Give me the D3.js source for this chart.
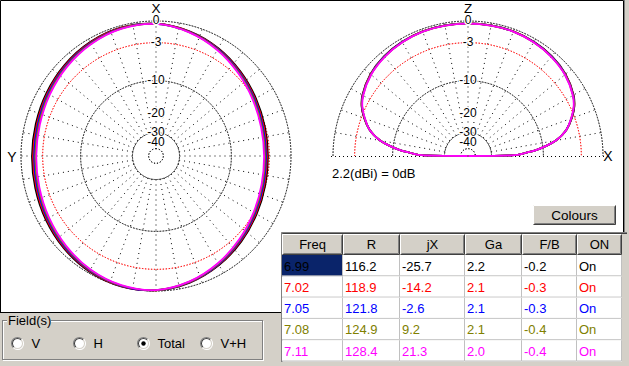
<!DOCTYPE html>
<html><head><meta charset="utf-8">
<script src="https://cdnjs.cloudflare.com/ajax/libs/d3/7.8.5/d3.min.js"></script>
<style>
html,body{margin:0;padding:0;background:#d4d0c8;overflow:hidden}
svg{display:block;font-family:Arial,"Liberation Sans",sans-serif}
</style></head><body>
<script>
// ---------- data ----------
const seriesFreq = ["6.99","7.02","7.05","7.08","7.11"];
const seriesColors = ["#000000","#ff0000","#0000ff","#808000","#ff00ff"];
const tableColumns = ["Freq","R","jX","Ga","F/B","ON"];
const colR  = ["116.2","118.9","121.8","124.9","128.4"];
const colJX = ["-25.7","-14.2","-2.6","9.2","21.3"];
const colGa = ["2.2","2.1","2.1","2.1","2.0"];
const colFB = ["-0.2","-0.3","-0.3","-0.4","-0.4"];
const colOn = ["On","On","On","On","On"];
const ringDb = [0,-3,-10,-30,-50];
const ringLabels = ["0","-3","-10","-20","-30","-40"];
const ringLabelDb = [0,-3,-10,-20,-30,-40];
const spokeAngles = d3.range(0,360,10);
const fieldOptions = ["V","H","Total","V+H"];
const maxGainText = "2.2(dBi) = 0dB";

// azimuth (horizontal) pattern, angle clockwise from X (top), dB
const azAngles = [0,15,30,45,60,75,90,105,120,135,150,165,180,195,210,225,240,255,270,285,300,315,330,345];
const azBlack   = [-0.35,-0.76,-1.38,-2.09,-2.70,-3.10,-3.22,-3.04,-2.58,-1.92,-1.18,-0.51,-0.09,0.00,-0.21,-0.60,-1.01,-1.33,-1.46,-1.40,-1.13,-0.77,-0.43,-0.24];
const azRed     = [-0.35,-0.80,-1.46,-2.20,-2.83,-3.25,-3.37,-3.19,-2.71,-2.03,-1.26,-0.55,-0.09,-0.04,-0.29,-0.71,-1.14,-1.48,-1.61,-1.55,-1.26,-0.88,-0.51,-0.28];
const azBlue    = [-0.36,-0.84,-1.53,-2.30,-2.96,-3.39,-3.52,-3.33,-2.84,-2.13,-1.33,-0.59,-0.10,-0.08,-0.36,-0.81,-1.27,-1.62,-1.76,-1.69,-1.39,-0.98,-0.58,-0.32];
const azOlive   = [-0.37,-0.88,-1.61,-2.41,-3.09,-3.54,-3.67,-3.48,-2.97,-2.24,-1.41,-0.63,-0.11,-0.12,-0.44,-0.92,-1.40,-1.77,-1.91,-1.84,-1.52,-1.09,-0.66,-0.36];
const azMagenta = [-0.38,-0.92,-1.68,-2.51,-3.22,-3.68,-3.82,-3.62,-3.10,-2.34,-1.48,-0.67,-0.12,-0.16,-0.51,-1.03,-1.53,-1.91,-2.06,-1.98,-1.65,-1.19,-0.73,-0.40];

// elevation (vertical) pattern, elevation angle from right horizon, dB
const elAngles = [0,1,2,3,5,7.5,10,12.5,15,20,25,30,40,50,60,70,80,90,100,110,120,130,140,150,155,160,165,167.5,170,172.5,175,177,178,179,180];
const elBlack   = [-99,-18.4,-16.0,-14.7,-11.7,-9.1,-7.1,-5.8,-4.8,-3.45,-2.40,-1.75,-1.00,-0.60,-0.40,-0.30,-0.30,-0.30,-0.30,-0.30,-0.40,-0.60,-1.00,-1.75,-2.40,-3.45,-4.8,-5.8,-7.1,-9.1,-11.7,-14.7,-16.0,-18.4,-99];
const elRed     = [-99,-18.4,-16.0,-14.7,-11.7,-9.1,-7.1,-5.8,-4.8,-3.47,-2.43,-1.78,-1.03,-0.63,-0.42,-0.31,-0.30,-0.30,-0.30,-0.31,-0.42,-0.63,-1.03,-1.78,-2.43,-3.47,-4.8,-5.8,-7.1,-9.1,-11.7,-14.7,-16.0,-18.4,-99];
const elBlue    = [-99,-18.4,-16.0,-14.7,-11.7,-9.1,-7.1,-5.8,-4.8,-3.50,-2.46,-1.81,-1.06,-0.66,-0.44,-0.32,-0.31,-0.31,-0.31,-0.32,-0.44,-0.66,-1.06,-1.81,-2.46,-3.50,-4.8,-5.8,-7.1,-9.1,-11.7,-14.7,-16.0,-18.4,-99];
const elOlive   = [-99,-18.4,-16.0,-14.7,-11.7,-9.1,-7.1,-5.8,-4.8,-3.53,-2.49,-1.84,-1.09,-0.69,-0.46,-0.33,-0.32,-0.32,-0.32,-0.33,-0.46,-0.69,-1.09,-1.84,-2.49,-3.53,-4.8,-5.8,-7.1,-9.1,-11.7,-14.7,-16.0,-18.4,-99];
const elMagenta = [-99,-18.4,-16.0,-14.7,-11.7,-9.1,-7.1,-5.8,-4.8,-3.56,-2.52,-1.87,-1.12,-0.72,-0.48,-0.34,-0.33,-0.33,-0.33,-0.34,-0.48,-0.72,-1.12,-1.87,-2.52,-3.56,-4.8,-5.8,-7.1,-9.1,-11.7,-14.7,-16.0,-18.4,-99];

const azSeries = [azBlack, azRed, azBlue, azOlive, azMagenta];
const elSeries = [elBlack, elRed, elBlue, elOlive, elMagenta];

// ---------- drawing ----------
const W = 629, H = 366;
const svg = d3.select("body").append("svg").attr("width", W).attr("height", H);

svg.append("rect").attr("x",0).attr("y",0).attr("width",625).attr("height",313).attr("fill","#fff");
svg.append("path").attr("d","M0.5,312.5V0.5H623.5V232").attr("fill","none").attr("stroke","#000");
svg.append("line").attr("x1",0).attr("x2",282).attr("y1",312.5).attr("y2",312.5).attr("stroke","#000");
svg.append("line").attr("x1",624.5).attr("x2",624.5).attr("y1",0).attr("y2",232).attr("stroke","#808080");

const R0 = 135;
const rScale = d3.scaleLinear().domain([0,1]).range([0,R0]);
const rad = db => rScale(Math.pow(0.89, -db/2));

function drawGrid(g, full) {
  const angs = full ? spokeAngles : spokeAngles.filter(a => a > 0 && a < 180);
  angs.forEach(a => {
    const ang = full ? a : 90 - a;
    const t = ang * Math.PI/180;
    const r1 = rad(-30), r2 = R0;
    g.append("line")
      .attr("x1", r1*Math.sin(t)).attr("y1", -r1*Math.cos(t))
      .attr("x2", r2*Math.sin(t)).attr("y2", -r2*Math.cos(t))
      .attr("stroke","#000").attr("stroke-width",1).attr("stroke-dasharray","1 4");
  });
  if (!full) {
    g.append("line").attr("x1",-R0-2).attr("x2",R0+2).attr("y1",0.5).attr("y2",0.5)
      .attr("stroke","#000").attr("stroke-dasharray","1 3");
  }
  ringDb.forEach(db => {
    const r = rad(db);
    const arc = full ? d3.arc()({innerRadius:r,outerRadius:r,startAngle:0,endAngle:2*Math.PI})
                     : d3.arc()({innerRadius:r,outerRadius:r,startAngle:-Math.PI/2,endAngle:Math.PI/2});
    g.append("path").attr("d", arc).attr("fill","none")
      .attr("stroke", db === -3 ? "#ff0000" : "#000").attr("stroke-width",1)
      .attr("stroke-dasharray","1 2");
  });
}

function drawLabels(g, axisTop) {
  ringLabels.forEach((lab,i) => {
    g.append("text").attr("x",0).attr("y", -rad(ringLabelDb[i]) + 3)
      .attr("text-anchor","middle").attr("font-size",12)
      .attr("stroke","#fff").attr("stroke-width",2.5).attr("paint-order","stroke")
      .attr("fill","#000").text(lab);
  });
  g.append("text").attr("x",0).attr("y",-143).attr("text-anchor","middle")
    .attr("font-size",13.5).text(axisTop);
}

const radial = d3.lineRadial().curve(d3.curveCatmullRomClosed.alpha(0.5));
const radialOpen = d3.lineRadial().curve(d3.curveCatmullRom.alpha(0.5));

// left: azimuth
const gL = svg.append("g").attr("transform","translate(156,156)");
drawGrid(gL, true);
azSeries.forEach((vals,k) => {
  const pts = azAngles.map((a,i) => [a*Math.PI/180, rad(vals[i])]);
  gL.append("path").attr("d", radial(pts)).attr("fill","none")
    .attr("stroke", seriesColors[k]).attr("stroke-width",1.8);
});
drawLabels(gL, "X");
gL.append("text").attr("x",-144).attr("y",6).attr("text-anchor","middle").attr("font-size",14).text("Y");

// right: elevation
const gR = svg.append("g").attr("transform","translate(468,156)");
drawGrid(gR, false);
elSeries.forEach((vals,k) => {
  const pts = elAngles.map((a,i) => [(90-a)*Math.PI/180, rad(vals[i])]);
  gR.append("path").attr("d", radialOpen(pts)).attr("fill","none")
    .attr("stroke", seriesColors[k]).attr("stroke-width",1.8);
});
drawLabels(gR, "Z");
gR.append("text").attr("x",140).attr("y",5).attr("text-anchor","middle").attr("font-size",14).text("X");
svg.append("text").attr("x",332).attr("y",178).attr("font-size",13).text(maxGainText);

function button3d(x,y,w,h){
  svg.append("rect").attr("x",x).attr("y",y).attr("width",w).attr("height",h).attr("fill","#d4d0c8");
  svg.append("path").attr("d",`M${x+0.5},${y+h-0.5}V${y+0.5}H${x+w-0.5}`).attr("fill","none").attr("stroke","#fff");
  svg.append("path").attr("d",`M${x+0.5},${y+h-0.5}H${x+w-0.5}V${y+0.5}`).attr("fill","none").attr("stroke","#404040");
  svg.append("path").attr("d",`M${x+1.5},${y+h-1.5}H${x+w-1.5}V${y+1.5}`).attr("fill","none").attr("stroke","#808080");
}
button3d(533,205,83,20);
svg.append("text").attr("x",574.5).attr("y",220).attr("text-anchor","middle").attr("font-size",13.5).text("Colours");

// table
const colX = [282,343,400,465,522,577,622];
const tTop = 233, hdrH = 21, rowH = 21.3;
svg.append("rect").attr("x",281).attr("y",232).attr("width",347).attr("height",131).attr("fill","#d4d0c8");
svg.append("path").attr("d","M281.5,362V232.5H627").attr("fill","none").attr("stroke","#808080");
svg.append("path").attr("d","M282.5,362V233.5H627").attr("fill","none").attr("stroke","#404040");
tableColumns.forEach((c,i) => {
  button3d(colX[i], tTop+1, colX[i+1]-colX[i], hdrH);
  svg.append("text").attr("x",(colX[i]+colX[i+1])/2).attr("y",tTop+16).attr("text-anchor","middle")
    .attr("font-size",13).text(c);
});
const rowsData = seriesFreq.map((f,i) => [f, colR[i], colJX[i], colGa[i], colFB[i], colOn[i]]);
rowsData.forEach((row,ri) => {
  const y0 = tTop + 1 + hdrH + ri*rowH;
  row.forEach((v,ci) => {
    const x0 = colX[ci], w = colX[ci+1]-colX[ci];
    const sel = (ri===0 && ci===0);
    svg.append("rect").attr("x",x0).attr("y",y0).attr("width",w).attr("height",rowH)
      .attr("fill", sel ? "#0a246a" : "#fff");
    svg.append("path").attr("d",`M${x0},${y0+rowH-0.5}H${x0+w-0.5}V${y0}`)
      .attr("fill","none").attr("stroke","#c0c0c0");
    svg.append("text").attr("x",x0+2).attr("y",y0+15.5).attr("font-size",13)
      .attr("fill", seriesColors[ri]).text(v);
  });
});

// Field(s) group
svg.append("rect").attr("x",3.5).attr("y",321.5).attr("width",260).attr("height",39).attr("fill","none").attr("stroke","#fff");
svg.append("rect").attr("x",2.5).attr("y",320.5).attr("width",260).attr("height",39).attr("fill","none").attr("stroke","#808080");
svg.append("rect").attr("x",7).attr("y",314).attr("width",44).attr("height",14).attr("fill","#d4d0c8");
svg.append("text").attr("x",8).attr("y",325).attr("font-size",13).text("Field(s)");
const radioX = [17.5,79.5,143.5,206.5];
fieldOptions.forEach((f,i) => {
  const cx = radioX[i], cy = 343.5;
  const g = svg.append("g").attr("transform",`translate(${cx},${cy})`);
  g.append("circle").attr("r",6).attr("fill","#fff");
  g.append("path").attr("d", d3.arc()({innerRadius:5.5,outerRadius:6.5,startAngle:-Math.PI*3/4,endAngle:Math.PI/4})).attr("fill","#808080");
  g.append("path").attr("d", d3.arc()({innerRadius:4.5,outerRadius:5.5,startAngle:-Math.PI*3/4,endAngle:Math.PI/4})).attr("fill","#404040");
  g.append("path").attr("d", d3.arc()({innerRadius:5.5,outerRadius:6.5,startAngle:Math.PI/4,endAngle:Math.PI*5/4})).attr("fill","#fff");
  g.append("path").attr("d", d3.arc()({innerRadius:4.5,outerRadius:5.5,startAngle:Math.PI/4,endAngle:Math.PI*5/4})).attr("fill","#d4d0c8");
  if (f === "Total") g.append("circle").attr("r",2.2).attr("fill","#000");
  svg.append("text").attr("x",cx+14).attr("y",348).attr("font-size",13).text(f);
});
</script>
</body></html>
